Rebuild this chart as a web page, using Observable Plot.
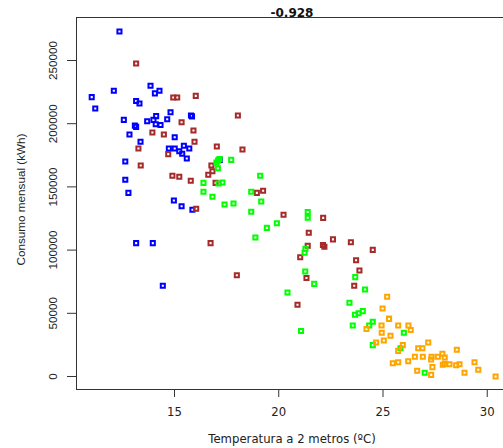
<!DOCTYPE html>
<html>
<head>
<meta charset="utf-8">
<script src="https://cdn.jsdelivr.net/npm/d3@7"></script>
<script src="https://cdn.jsdelivr.net/npm/@observablehq/plot@0.6"></script>
<style>
  html, body { margin: 0; padding: 0; background: #ffffff; }
  #chart { width: 503px; height: 448px; }
</style>
</head>
<body>
<div id="chart"></div>
<script>
// ---- Data ----
const titleText = "-0.928";
const xLabel = "Temperatura a 2 metros (ºC)";
const yLabel = "Consumo mensual (kWh)";
const xTicks = [15, 20, 25, 30];
const yTicks = [0, 50000, 100000, 150000, 200000, 250000];

const groupNames = ["azul", "marrón", "verde", "naranja"];
const groupColors = ["#0000ff", "#a52a2a", "#00ff00", "#ffa500"];

const blueTemp = [12.36, 12.09, 11.03, 11.20, 13.85, 14.28, 14.06, 13.16, 13.32, 14.81,
  12.57, 13.10, 13.16, 13.69, 14.12, 13.99, 14.10, 14.33, 14.65, 15.79,
  15.84, 12.84, 15.01, 13.37, 14.73, 15.01, 15.45, 15.71, 15.23, 15.37,
  15.59, 12.64, 12.64, 12.79, 14.97, 15.34, 15.86, 13.16, 13.96, 14.44, 17.17];
const blueKwh = [273000, 226000, 221000, 212000, 230000, 226000, 224000, 218000, 216000, 209000,
  203000, 198500, 197500, 202000, 206000, 203000, 199500, 199000, 203500, 206500,
  205800, 191500, 189300, 185700, 180400, 180400, 182500, 180400, 178200, 176200,
  172500, 170100, 155600, 145300, 139200, 134700, 131900, 105500, 105500, 71800, 171400];

const brownTemp = [13.16, 14.94, 15.13, 16.02, 15.34, 15.91, 13.94, 14.49, 15.96, 13.27,
  14.70, 17.03, 13.38, 14.90, 15.23, 15.78, 16.62, 16.82, 16.77, 16.97,
  16.04, 16.73, 18.26, 18.95, 19.25, 20.23, 22.13, 21.44, 22.60, 22.12,
  22.19, 21.39, 21.03, 17.99, 21.33, 23.46, 24.51, 23.71, 23.87, 23.62,
  20.90, 18.04];
const brownKwh = [247600, 220700, 220700, 222000, 201200, 194600, 193000, 191500, 185700, 180400,
  175900, 182000, 166900, 158800, 158000, 154900, 159600, 162400, 166900, 153200,
  132700, 105500, 179600, 145300, 146900, 127900, 125500, 113700, 108500, 104000,
  102600, 103400, 94300, 80100, 77900, 106200, 100200, 92000, 83900, 71800,
  56700, 206500];

const greenTemp = [17.01, 17.09, 17.16, 17.08, 17.72, 16.39, 17.11, 17.30, 16.39, 16.82,
  19.11, 18.68, 17.40, 17.83, 19.16, 18.68, 21.39, 21.39, 19.91, 19.43,
  18.88, 21.28, 21.24, 21.27, 23.67, 21.70, 24.14, 20.42, 23.39, 23.66,
  23.83, 24.03, 24.51, 25.29, 23.55, 24.34, 21.07, 26.00, 24.51, 25.84, 27.00];
const greenKwh = [169300, 170900, 172100, 164800, 171400, 153200, 152700, 153500, 146100, 142200,
  158800, 146100, 136100, 136900, 138400, 130300, 130100, 125600, 121300, 117600,
  110000, 101100, 97900, 83100, 78600, 73300, 68800, 66500, 58300, 48800,
  50100, 51700, 43300, 45600, 40300, 40300, 36000, 34600, 24800, 22400, 2900];

const orangeTemp = [25.20, 24.98, 25.29, 24.93, 25.73, 26.22, 24.21, 26.33, 24.94, 25.36,
  25.04, 24.67, 27.17, 25.95, 25.73, 26.69, 26.89, 28.54, 26.53, 26.91,
  27.33, 27.31, 27.63, 27.85, 27.96, 26.21, 25.47, 25.73, 27.96, 27.87,
  28.19, 28.51, 28.67, 29.39, 26.64, 27.37, 27.31, 28.91, 29.57, 30.40];
const orangeKwh = [63100, 53800, 45600, 40300, 40300, 40300, 37600, 36800, 34600, 32200,
  28500, 26900, 26900, 24800, 20300, 22400, 22400, 21100, 15600, 15600,
  15600, 13400, 15600, 18000, 15000, 12100, 10500, 11300, 10000, 9300,
  9700, 8900, 9700, 11300, 4500, 7400, 1300, 2900, 5300, 0];

// ---- Build table ----
const seriesTemp = [blueTemp, brownTemp, greenTemp, orangeTemp];
const seriesKwh = [blueKwh, brownKwh, greenKwh, orangeKwh];
const points = [];
groupNames.forEach((g, gi) => {
  seriesTemp[gi].forEach((t, i) => points.push({grupo: g, temp: t, kwh: seriesKwh[gi][i]}));
});

const ink = "#333333";

const chart = Plot.plot({
  width: 503,
  height: 448,
  marginLeft: 76,
  marginRight: 0,
  marginTop: 17,
  marginBottom: 59,
  style: {background: "#ffffff", color: ink, fontFamily: "DejaVu Sans, sans-serif", overflow: "visible"},
  x: {domain: [10.30, 30.78]},
  y: {domain: [-10285, 284018]},
  color: {domain: groupNames, range: groupColors},
  marks: [
    Plot.frame({stroke: ink, strokeWidth: 1}),
    Plot.axisX({ticks: xTicks, tickSize: 8, tickPadding: 9.7, fontSize: 11.7,
      fontFamily: "DejaVu Sans", label: null, stroke: ink, fill: "#222"}),
    Plot.axisY({ticks: yTicks, tickSize: 9, tickPadding: 11, tickRotate: -90, fontSize: 11.7,
      fontFamily: "Liberation Sans", label: null, stroke: ink, fill: "#222",
      tickFormat: d => String(d)}),
    Plot.dot(points, {x: "temp", y: "kwh", stroke: "grupo", symbol: "square",
      r: 2.3, strokeWidth: 2, fill: "none"}),
    Plot.text([titleText], {frameAnchor: "top", text: d => d, lineAnchor: "bottom",
      dy: -1, dx: 2, fontSize: 12, fontWeight: "bold", fontFamily: "DejaVu Sans", fill: "#111"}),
    Plot.text([xLabel], {frameAnchor: "bottom", text: d => d, lineAnchor: "bottom",
      textAnchor: "middle", dy: 53, dx: 2,
      fontSize: 11.7, fontFamily: "DejaVu Sans", fill: "#222"}),
    Plot.text([yLabel], {frameAnchor: "left", text: d => d, rotate: -90, textAnchor: "middle",
      lineAnchor: "middle", dx: -55, dy: -4,
      fontSize: 11.7, fontFamily: "Liberation Sans", fill: "#222"})
  ]
});
document.getElementById("chart").appendChild(chart);
</script>
</body>
</html>
